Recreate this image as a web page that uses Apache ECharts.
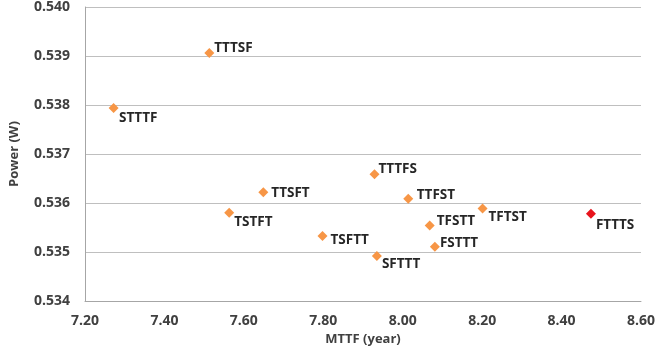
<!DOCTYPE html>
<html><head><meta charset="utf-8">
<script src="https://cdn.jsdelivr.net/npm/echarts@6/dist/echarts.min.js"></script>
<style>html,body{margin:0;padding:0;background:#fff}#c{width:658px;height:351px}</style>
</head><body><div id="c"></div>
<script>
const names = ["STTTF","TTTSF","TTSFT","TSTFT","TSFTT","TTTFS","TTFST","TFTST","FTTTS","TFSTT","FSTTT","SFTTT"];
const mttf  = [7.272, 7.513, 7.649, 7.563, 7.798, 7.929, 8.014, 8.201, 8.474, 8.068, 8.081, 7.935];
const power = [0.53794, 0.53906, 0.53622, 0.53580, 0.53533, 0.53659, 0.53609, 0.53589, 0.53578, 0.53554, 0.53511, 0.53492];
const highlighted = ["FTTTS"];
const xTicks = [7.2, 7.4, 7.6, 7.8, 8.0, 8.2, 8.4, 8.6];
const yTicks = [0.534, 0.535, 0.536, 0.537, 0.538, 0.539, 0.540];

// label placement (style only)
const labelOffsets = {
  STTTF:[0.5,10], TTTSF:[0,-5], TTSFT:[3,1], TSTFT:[0,9], TSFTT:[3,4], TTTFS:[-1,-5],
  TTFST:[3.5,-3], TFTST:[1,9], FTTTS:[0,11], TFSTT:[2,-4], FSTTT:[0,-4], SFTTT:[0,8]
};

const FONT = '"Open Sans", "Noto Sans", sans-serif';
const data = names.map((n,i)=>({
  name:n, value:[mttf[i], power[i]],
  itemStyle:{color: highlighted.includes(n) ? '#E8141C' : '#F79646', opacity:1},
  label:{offset: labelOffsets[n]}
}));

const chart = echarts.init(document.getElementById('c'), null, {renderer:'canvas'});
chart.setOption({
  animation:false,
  grid:{left:82, right:13, top:7, bottom:49, containLabel:false},
  xAxis:{
    type:'value', min:xTicks[0], max:xTicks[xTicks.length-1], interval:0.2,
    name:'MTTF (year)', nameLocation:'middle', nameGap:31,
    nameTextStyle:{fontFamily:FONT, fontWeight:'bold', fontSize:13, color:'#404040'},
    axisLine:{show:true, lineStyle:{color:'#a6a6a6', width:1}},
    axisTick:{show:false},
    splitLine:{show:false},
    axisLabel:{fontFamily:FONT, fontWeight:'bold', fontSize:14, color:'#404040', margin:13,
      formatter:v=>v.toFixed(2)}
  },
  yAxis:{
    type:'value', min:yTicks[0], max:yTicks[yTicks.length-1], interval:0.001,
    name:'Power (W)', nameLocation:'middle', nameGap:64,
    nameTextStyle:{fontFamily:FONT, fontWeight:'bold', fontSize:13, color:'#404040'},
    axisLine:{show:true, lineStyle:{color:'#a6a6a6', width:1}},
    axisTick:{show:false},
    splitLine:{show:true, lineStyle:{color:'#bfbfbf', width:1}},
    axisLabel:{fontFamily:FONT, fontWeight:'bold', fontSize:14, color:'#404040', margin:15,
      formatter:v=>v.toFixed(3)}
  },
  series:[{
    type:'scatter', symbol:'diamond', symbolSize:10,
    data:data,
    label:{show:true, position:'right', distance:0, formatter:p=>p.name,
      fontFamily:FONT, fontWeight:'bold', fontSize:13.5, color:'#262626'}
  }]
});
</script></body></html>
